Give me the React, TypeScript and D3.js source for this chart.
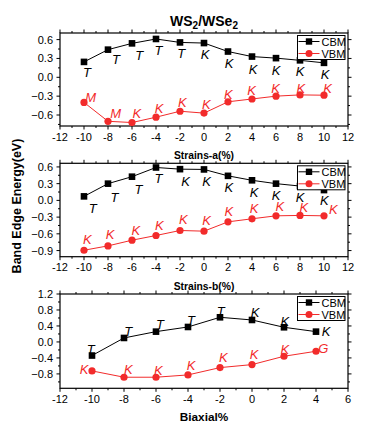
import React from "react";
import * as d3 from "d3";

const strainX = [-10, -8, -6, -4, -2, 0, 2, 4, 6, 8, 10];
const biaxX = [-10, -8, -6, -4, -2, 0, 2, 4];

// Panel A (Strains-a)
const cbmA = [0.245, 0.44, 0.54, 0.61, 0.555, 0.545, 0.41, 0.33, 0.305, 0.27, 0.23];
const vbmA = [-0.40, -0.70, -0.72, -0.635, -0.54, -0.57, -0.39, -0.345, -0.30, -0.28, -0.285];
const cbmLabA = ["T", "T", "T", "T", "T", "K", "K", "K", "K", "K", "K"];
const vbmLabA = ["M", "M", "K", "K", "K", "K", "K", "K", "K", "K", "K"];
const cbmLabAX = [-9.75, -7.33, -5.4, -3.8, -1.9, 0.1, 2.1, 4.1, 6.0, 8.0, 10.1];
const cbmLabAY = [0.073, 0.286, 0.354, 0.433, 0.381, 0.365, 0.222, 0.132, 0.116, 0.1, 0.052];
const vbmLabAX = [-9.45, -7.36, -5.6, -3.75, -1.8, 0.2, 2.03, 3.97, 5.97, 8.08, 10.3];
const vbmLabAY = [-0.324, -0.571, -0.571, -0.487, -0.403, -0.424, -0.265, -0.213, -0.18, -0.18, -0.18];

// Panel B (Strains-b)
const cbmB = [0.072, 0.30, 0.425, 0.59, 0.56, 0.555, 0.44, 0.36, 0.30, 0.257, 0.185];
const vbmB = [-0.894, -0.816, -0.714, -0.63, -0.54, -0.552, -0.385, -0.33, -0.277, -0.27, -0.277];
const cbmLabB = ["T", "T", "T", "T", "K", "K", "K", "K", "K", "K", "K"];
const vbmLabB = ["K", "K", "K", "K", "K", "K", "K", "K", "K", "K", "K"];
const cbmLabBX = [-9.28, -7.47, -5.47, -3.8, -1.53, 0.22, 2.06, 4.17, 6.0, 8.0, 10.03];
const cbmLabBY = [-0.144, 0.054, 0.198, 0.396, 0.335, 0.347, 0.234, 0.149, 0.095, 0.054, 0.005];
const vbmLabBX = [-9.72, -7.83, -5.67, -3.72, -1.72, 0.22, 2.06, 4.17, 6.33, 8.33, 10.78];
const vbmLabBY = [-0.70, -0.61, -0.534, -0.44, -0.336, -0.354, -0.19, -0.144, -0.115, -0.133, -0.162];

// Panel C (Biaxial)
const cbmC = [-0.34, 0.10, 0.258, 0.375, 0.617, 0.55, 0.367, 0.258];
const vbmC = [-0.725, -0.883, -0.883, -0.825, -0.642, -0.567, -0.358, -0.233];
const cbmLabC = ["T", "T", "T", "T", "T", "K", "K", "K"];
const vbmLabC = ["K", "K", "K", "K", "K", "K", "K", "G"];
const cbmLabCX = [-10.08, -7.73, -5.75, -3.81, -1.96, 0.19, 2.06, 4.63];
const cbmLabCY = [-0.183, 0.258, 0.45, 0.55, 0.758, 0.733, 0.525, 0.258];
const vbmLabCX = [-10.5, -7.73, -5.85, -3.81, -1.79, 0.125, 2.06, 4.46];
const vbmLabCY = [-0.675, -0.683, -0.717, -0.575, -0.383, -0.30, -0.183, -0.158];

const xTicksStrain = [-12, -10, -8, -6, -4, -2, 0, 2, 4, 6, 8, 10, 12];
const xTicksBiax = [-12, -10, -8, -6, -4, -2, 0, 2, 4, 6];
const yTicksA = [-0.6, -0.3, 0.0, 0.3, 0.6];
const yTicksB = [-0.9, -0.6, -0.3, 0.0, 0.3, 0.6];
const yTicksC = [-0.8, -0.4, 0.0, 0.4, 0.8, 1.2];

const RED = "#f22b2b";
const FONT = "Liberation Sans, Arial, sans-serif";

type PanelProps = {
  xs: number[];
  cbm: number[];
  vbm: number[];
  cbmLab: string[];
  vbmLab: string[];
  cbmLX: number[];
  cbmLY: number[];
  vbmLX: number[];
  vbmLY: number[];
  xDomain: [number, number];
  yDomain: [number, number];
  xTicks: number[];
  yTicks: number[];
  yStep: number;
  top: number;
  bottom: number;
};

const LEFT = 60;
const RIGHT = 348;

function Panel(p: PanelProps) {
  const x = d3.scaleLinear().domain(p.xDomain).range([LEFT, RIGHT]);
  const y = d3.scaleLinear().domain(p.yDomain).range([p.bottom, p.top]);
  const line = d3
    .line<[number, number]>()
    .x((d) => x(d[0]))
    .y((d) => y(d[1]));
  const cPts: [number, number][] = p.xs.map((v, i) => [v, p.cbm[i]]);
  const vPts: [number, number][] = p.xs.map((v, i) => [v, p.vbm[i]]);

  const xMinor: number[] = [];
  for (let i = 0; i < p.xTicks.length - 1; i++) xMinor.push((p.xTicks[i] + p.xTicks[i + 1]) / 2);
  const yMinor: number[] = [];
  const yAll = [...p.yTicks, p.yTicks[p.yTicks.length - 1] + p.yStep];
  const yAllLow = [p.yTicks[0] - p.yStep, ...yAll];
  for (let i = 0; i < yAllLow.length - 1; i++) {
    const m = (yAllLow[i] + yAllLow[i + 1]) / 2;
    if (m > p.yDomain[0] && m < p.yDomain[1]) yMinor.push(m);
  }
  const yMajor = p.yTicks.filter((v) => v >= p.yDomain[0] - 1e-9 && v <= p.yDomain[1] + 1e-9);

  const lx = RIGHT - 50.5;
  const ly = p.top + 2.5;
  const fmt = d3.format(".1f");

  return (
    <g>
      {/* ticks */}
      {p.xTicks.map((t) => (
        <g key={"xt" + t}>
          <line x1={x(t)} x2={x(t)} y1={p.bottom} y2={p.bottom + 3.5} stroke="#000" />
          <line x1={x(t)} x2={x(t)} y1={p.top} y2={p.top - 3.5} stroke="#000" />
          <text x={x(t)} y={p.bottom + 14.5} textAnchor="middle" fontSize={11} fontFamily={FONT}>
            {t}
          </text>
        </g>
      ))}
      {xMinor.map((t) => (
        <g key={"xm" + t}>
          <line x1={x(t)} x2={x(t)} y1={p.bottom} y2={p.bottom + 2} stroke="#000" />
          <line x1={x(t)} x2={x(t)} y1={p.top} y2={p.top - 2} stroke="#000" />
        </g>
      ))}
      {yMajor.map((t) => (
        <g key={"yt" + t}>
          <line x1={LEFT} x2={LEFT - 3.5} y1={y(t)} y2={y(t)} stroke="#000" />
          <line x1={RIGHT} x2={RIGHT + 3.5} y1={y(t)} y2={y(t)} stroke="#000" />
          <text x={LEFT - 7} y={y(t) + 4} textAnchor="end" fontSize={11} fontFamily={FONT}>
            {fmt(t)}
          </text>
        </g>
      ))}
      {yMinor.map((t) => (
        <g key={"ym" + t}>
          <line x1={LEFT} x2={LEFT - 2} y1={y(t)} y2={y(t)} stroke="#000" />
          <line x1={RIGHT} x2={RIGHT + 2} y1={y(t)} y2={y(t)} stroke="#000" />
        </g>
      ))}
      <rect x={LEFT} y={p.top} width={RIGHT - LEFT} height={p.bottom - p.top} fill="none" stroke="#000" strokeWidth={1.2} />

      {/* lines */}
      <path d={line(cPts) || ""} fill="none" stroke="#000" strokeWidth={1} />
      <path d={line(vPts) || ""} fill="none" stroke={RED} strokeWidth={1} />
      {cPts.map((d, i) => (
        <rect key={"c" + i} x={x(d[0]) - 3.3} y={y(d[1]) - 3.3} width={6.6} height={6.6} fill="#000" />
      ))}
      {vPts.map((d, i) => (
        <circle key={"v" + i} cx={x(d[0])} cy={y(d[1])} r={3.6} fill={RED} />
      ))}

      {/* legend (drawn over the data, as in the original) */}
      <rect x={lx} y={ly} width={47.5} height={24} fill="#fff" stroke="#000" strokeWidth={1} />
      <line x1={lx + 1} x2={lx + 22} y1={ly + 6} y2={ly + 6} stroke="#000" />
      <rect x={lx + 11.5 - 3.2} y={ly + 6 - 3.2} width={6.4} height={6.4} fill="#000" />
      <text x={lx + 24} y={ly + 6 + 4} fontSize={11} fontFamily={FONT}>
        CBM
      </text>
      <line x1={lx + 1} x2={lx + 22} y1={ly + 18} y2={ly + 18} stroke={RED} />
      <circle cx={lx + 11.5} cy={ly + 18} r={3.5} fill={RED} />
      <text x={lx + 24} y={ly + 18 + 4} fontSize={11} fontFamily={FONT}>
        VBM
      </text>

      {/* point labels */}
      {p.cbmLab.map((s, i) => (
        <text
          key={"cl" + i}
          x={x(p.cbmLX[i])}
          y={y(p.cbmLY[i])}
          dy="0.36em"
          textAnchor="middle"
          fontSize={13}
          fontStyle="italic"
          fontFamily={FONT}
          fill="#000"
        >
          {s}
        </text>
      ))}
      {p.vbmLab.map((s, i) => (
        <text
          key={"vl" + i}
          x={x(p.vbmLX[i])}
          y={y(p.vbmLY[i])}
          dy="0.36em"
          textAnchor="middle"
          fontSize={13}
          fontStyle="italic"
          fontFamily={FONT}
          fill={RED}
        >
          {s}
        </text>
      ))}
    </g>
  );
}

export default function App() {
  return (
    <svg
      width={368}
      height={427}
      style={{ position: "absolute", left: 0, top: 0, background: "#fff" }}
      fontFamily={FONT}
    >
      <rect width={368} height={427} fill="#fff" />
      <text x={204} y={26} textAnchor="middle" fontSize={14} fontWeight="bold">
        WS<tspan fontSize={10} dy={3}>2</tspan>
        <tspan dy={-3}>/WSe</tspan>
        <tspan fontSize={10} dy={3}>2</tspan>
      </text>
      <Panel
        xs={strainX}
        cbm={cbmA}
        vbm={vbmA}
        cbmLab={cbmLabA}
        vbmLab={vbmLabA}
        cbmLX={cbmLabAX}
        cbmLY={cbmLabAY}
        vbmLX={vbmLabAX}
        vbmLY={vbmLabAY}
        xDomain={[-12, 12]}
        yDomain={[-0.775, 0.705]}
        xTicks={xTicksStrain}
        yTicks={yTicksA}
        yStep={0.3}
        top={33}
        bottom={126}
      />
      <text x={204} y={159} textAnchor="middle" fontSize={10.3} fontWeight="bold">
        Strains-a(%)
      </text>
      <Panel
        xs={strainX}
        cbm={cbmB}
        vbm={vbmB}
        cbmLab={cbmLabB}
        vbmLab={vbmLabB}
        cbmLX={cbmLabBX}
        cbmLY={cbmLabBY}
        vbmLX={vbmLabBX}
        vbmLY={vbmLabBY}
        xDomain={[-12, 12]}
        yDomain={[-1.01, 0.665]}
        xTicks={xTicksStrain}
        yTicks={yTicksB}
        yStep={0.3}
        top={163.3}
        bottom={256.7}
      />
      <text x={204} y={289.5} textAnchor="middle" fontSize={10.3} fontWeight="bold">
        Strains-b(%)
      </text>
      <Panel
        xs={biaxX}
        cbm={cbmC}
        vbm={vbmC}
        cbmLab={cbmLabC}
        vbmLab={vbmLabC}
        cbmLX={cbmLabCX}
        cbmLY={cbmLabCY}
        vbmLX={vbmLabCX}
        vbmLY={vbmLabCY}
        xDomain={[-12, 6]}
        yDomain={[-1.16, 1.2]}
        xTicks={xTicksBiax}
        yTicks={yTicksC}
        yStep={0.4}
        top={294}
        bottom={388.3}
      />
      <text x={204} y={421} textAnchor="middle" fontSize={11.8} fontWeight="bold">
        Biaxial%
      </text>
      <text
        transform="translate(20.5,206) rotate(-90)"
        textAnchor="middle"
        fontSize={12.5}
        fontWeight="bold"
      >
        Band Edge Energy(eV)
      </text>
    </svg>
  );
}
